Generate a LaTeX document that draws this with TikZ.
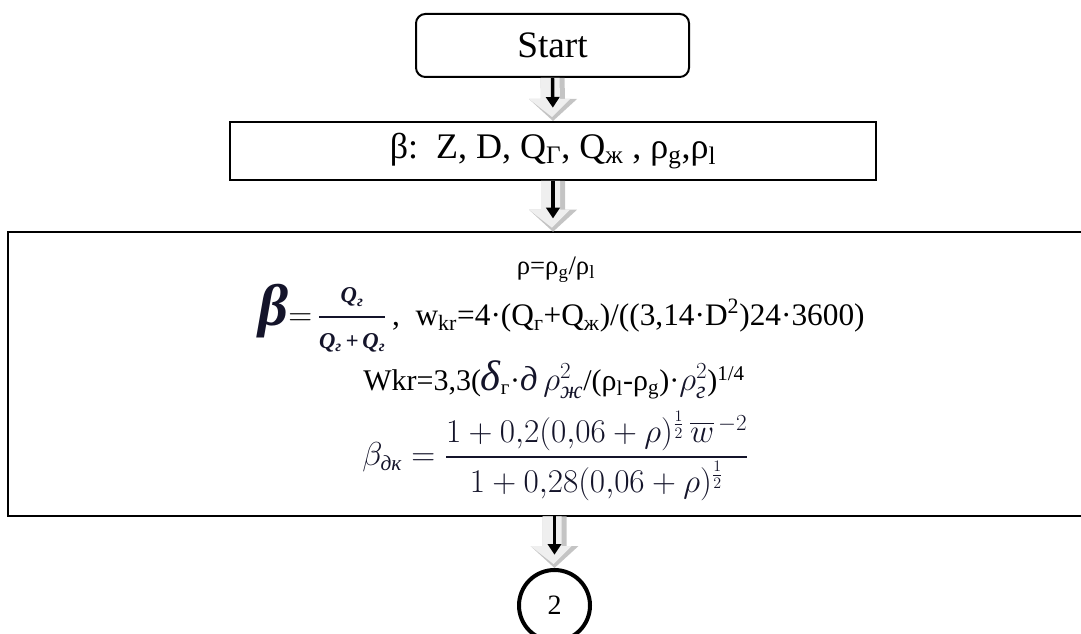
\documentclass[tikz,border=0pt]{standalone}
\usepackage{fontspec}
\usepackage{amsmath}
\setmainfont{Liberation Serif}
\usetikzlibrary{arrows.meta,calc}
\definecolor{arrlight}{HTML}{EFEFEF}
\definecolor{arrdark}{HTML}{C4C4C4}
\definecolor{mathc}{HTML}{14142A}
\tikzset{
  boxline/.style={draw=black, line width=1.5pt},
  startbox/.style={boxline, rounded corners=7pt, minimum width=204.75pt, minimum height=47.25pt, inner sep=0pt, font=\fontsize{28}{30}\selectfont},
  inbox/.style={boxline, minimum width=484.5pt, minimum height=43.5pt, inner sep=0pt, font=\fontsize{27}{29}\selectfont},
  txt/.style={inner sep=0pt, font=\fontsize{20}{22}\selectfont},
  endcirc/.style={circle, draw=black, line width=3pt, minimum size=53.25pt, inner sep=0pt, font=\fontsize{21}{22}\selectfont},
  blackarr/.style={draw=black, line width=2.6pt, -{Triangle[length=8pt,width=10pt]}, shorten >=10pt}
}
\newcommand\blockarrow[2]{%
  \fill[arrdark] ($(#1)+(-12,0)$) -- ($(#1)+(12,0)$) -- ($(#2)+(12,-22)$) -- ($(#2)+(24,-22)$) -- (#2) -- ($(#2)+(-24,-22)$) -- ($(#2)+(-12,-22)$) -- cycle;
  \fill[arrlight] ($(#1)+(-12,0)$) -- ($(#1)+(7,0)$) -- ($(#2)+(7,-22)$) -- ($(#2)+(17,-22)$) -- ($(#2)+(-1,-4)$) -- ($(#2)+(-24,-22)$) -- ($(#2)+(-12,-22)$) -- cycle;
}
\begin{document}
\begin{tikzpicture}[x=0.75pt,y=-0.75pt]
\useasboundingbox (0,0) rectangle (1081,634);
\clip (0,0) rectangle (1081,634);

\node[startbox] (start) at (552.5,45.5) {Start};
\node[inbox] (inp) at (553,151) {β:\ \ Z, D, Q\textsubscript{Г}, Q\textsubscript{ж} , ρ\textsubscript{g},ρ\textsubscript{l}};
\node[minimum width=811.5pt, minimum height=213pt, inner sep=0pt] (calc) at (549,374) {};
\draw[boxline] (calc.north east) -- (calc.north west) -- (calc.south west) -- (calc.south east);
\node[endcirc] (circ) at (554.5,605.5) {2};

% contents of the calculation box
\node[txt] (l1) at (556,270) {ρ=ρ\textsubscript{g}/ρ\textsubscript{l}};
\node[txt, anchor=west, font=\fontsize{23.5}{25}\selectfont] (l2) at (258,318) {{\color{mathc}\fontsize{44}{44}\selectfont\bfseries\itshape β}$=$\,{\color{mathc}$\dfrac{\text{\fontsize{17}{17}\selectfont\bfseries\itshape Q\textsubscript{г}}}{\text{\fontsize{17}{17}\selectfont\bfseries\itshape Q\textsubscript{г}\,+\,Q\textsubscript{г}}}$}\,,\ \ w\textsubscript{kr}=4·(Q\textsubscript{г}+Q\textsubscript{ж})/((3,14·D\textsuperscript{2})24·3600)};
\node[txt, anchor=west, font=\fontsize{22.5}{24}\selectfont] (l3) at (363,380) {Wkr=3,3({\color{mathc}\fontsize{32}{32}\selectfont\itshape δ}\textsubscript{г}·{\color{mathc}\fontsize{26}{26}\selectfont\itshape д\,$\rho^{2}_{\text{\itshape ж}}$}/(ρ\textsubscript{l}-ρ\textsubscript{g})·{\color{mathc}\fontsize{26}{26}\selectfont$\rho^{2}_{\text{\itshape г}}$})\textsuperscript{1/4}};
\node[txt, anchor=west, text=mathc, font=\fontsize{23}{25}\selectfont] (l4) at (362,456) {$\beta_{\text{\itshape дк}}=\dfrac{\rule[-5pt]{0pt}{5pt}1+0{,}2(0{,}06+\rho)^{\frac{1}{2}}\,\overline{w}^{\,-2}}{\rule{0pt}{21pt}1+0{,}28(0{,}06+\rho)^{\frac{1}{2}}}$};

% connectors
\blockarrow{start.south}{inp.north}
\draw[blackarr] (start.south) -- (inp.north);
\blockarrow{inp.south}{calc.north -| inp.south}
\draw[blackarr] (inp.south) -- (calc.north -| inp.south);
\blockarrow{calc.south -| circ.north}{circ.north}
\draw[blackarr] (calc.south -| circ.north) -- (circ.north);
\end{tikzpicture}
\end{document}
